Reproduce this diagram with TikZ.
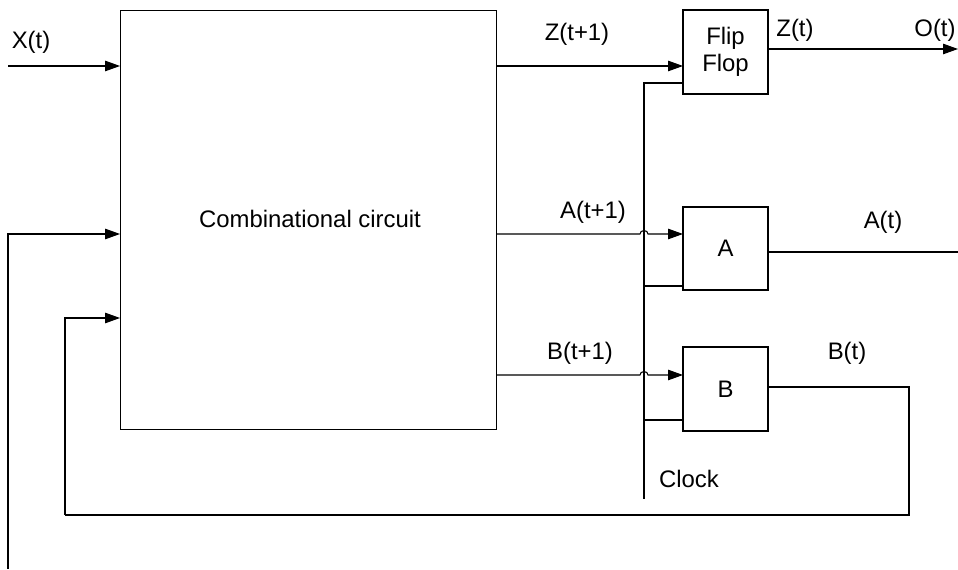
\documentclass[tikz,border=0pt]{standalone}
\usepackage{fontspec}
\setmainfont{Liberation Sans}
\usepackage{tikz}
\usetikzlibrary{arrows.meta,positioning}

\begin{document}
\begin{tikzpicture}[
  x=0.02cm, y=-0.02cm,
  font=\fontsize{13.6}{15.5}\selectfont,
  block/.style={rectangle,draw,line width=0.6pt,inner sep=0pt,outer sep=0pt,align=center},
  wire/.style={line width=0.6pt},
  arrow/.style={wire,-{Triangle[length=3mm,width=2.1mm]}},
  hop/.style={wire}
]
\useasboundingbox (0,0) rectangle (958,570);
% blocks
\node[block,minimum width=7.54cm,minimum height=8.4cm] (comb) at (308.5,220) {};
\node at (310,219) (combtxt) {Combinational circuit};
\node[block,minimum width=1.7cm,minimum height=1.68cm] (ff) at (725.5,52) {Flip\\Flop};
\node[block,minimum width=1.7cm,minimum height=1.66cm] (fa) at (725.5,248.5) {A};
\node[block,minimum width=1.7cm,minimum height=1.68cm] (fb) at (725.5,389) {B};

% free ends
\coordinate (xin) at (8,66);
\coordinate (lbot) at (8,569);
\coordinate (fbleft) at (65,318);
\coordinate (fbbot) at (65,515);
\coordinate (fbright) at (909,515);
\coordinate (oout) at (958,49);
\coordinate (aout) at (958,252);
\coordinate (clktop) at (644,83);
\coordinate (clkbot) at (644,499);

% inputs
\draw[arrow] (xin) -- (xin -| comb.west);
\draw[arrow] (lbot) |- (comb.west |- 0,234);
\draw[arrow] (fbbot) -- (fbleft) -- (fbleft -| comb.west);

% next state
\draw[arrow] (comb.east |- 0,66) -- (ff.west |- 0,66);
\draw[arrow] (comb.east |- 0,234) -- (640,234) arc[start angle=180,end angle=0,x radius=0.8mm,y radius=0.7mm] -- (fa.west |- 0,234);
\draw[arrow] (comb.east |- 0,375) -- (640,375) arc[start angle=180,end angle=0,x radius=0.8mm,y radius=0.7mm] -- (fb.west |- 0,375);

% clock
\draw[wire] (clkbot) -- (clktop) -- (ff.west |- clktop);
\draw[wire] (clkbot |- 0,286) -- (fa.west |- 0,286);
\draw[wire] (clkbot |- 0,420) -- (fb.west |- 0,420);

% outputs
\draw[arrow] (ff.east |- oout) -- (oout);
\draw[wire] (fa.east |- aout) -- (aout);
\draw[wire] (fb.east |- 0,387) -- (fbright |- 0,387) -- (fbright) -- (fbbot);

% labels
\node (lx) at (31,42) {X(t)};
\node (lz1) at (577,34) {Z(t+1)};
\node (la1) at (593,212) {A(t+1)};
\node (lb1) at (580,353) {B(t+1)};
\node (lz) at (795,30) {Z(t)};
\node (lo) at (935,30) {O(t)};
\node (la) at (883,222) {A(t)};
\node (lb) at (847,353) {B(t)};
\node (lclk) at (689,479) {Clock};
\end{tikzpicture}
\end{document}
